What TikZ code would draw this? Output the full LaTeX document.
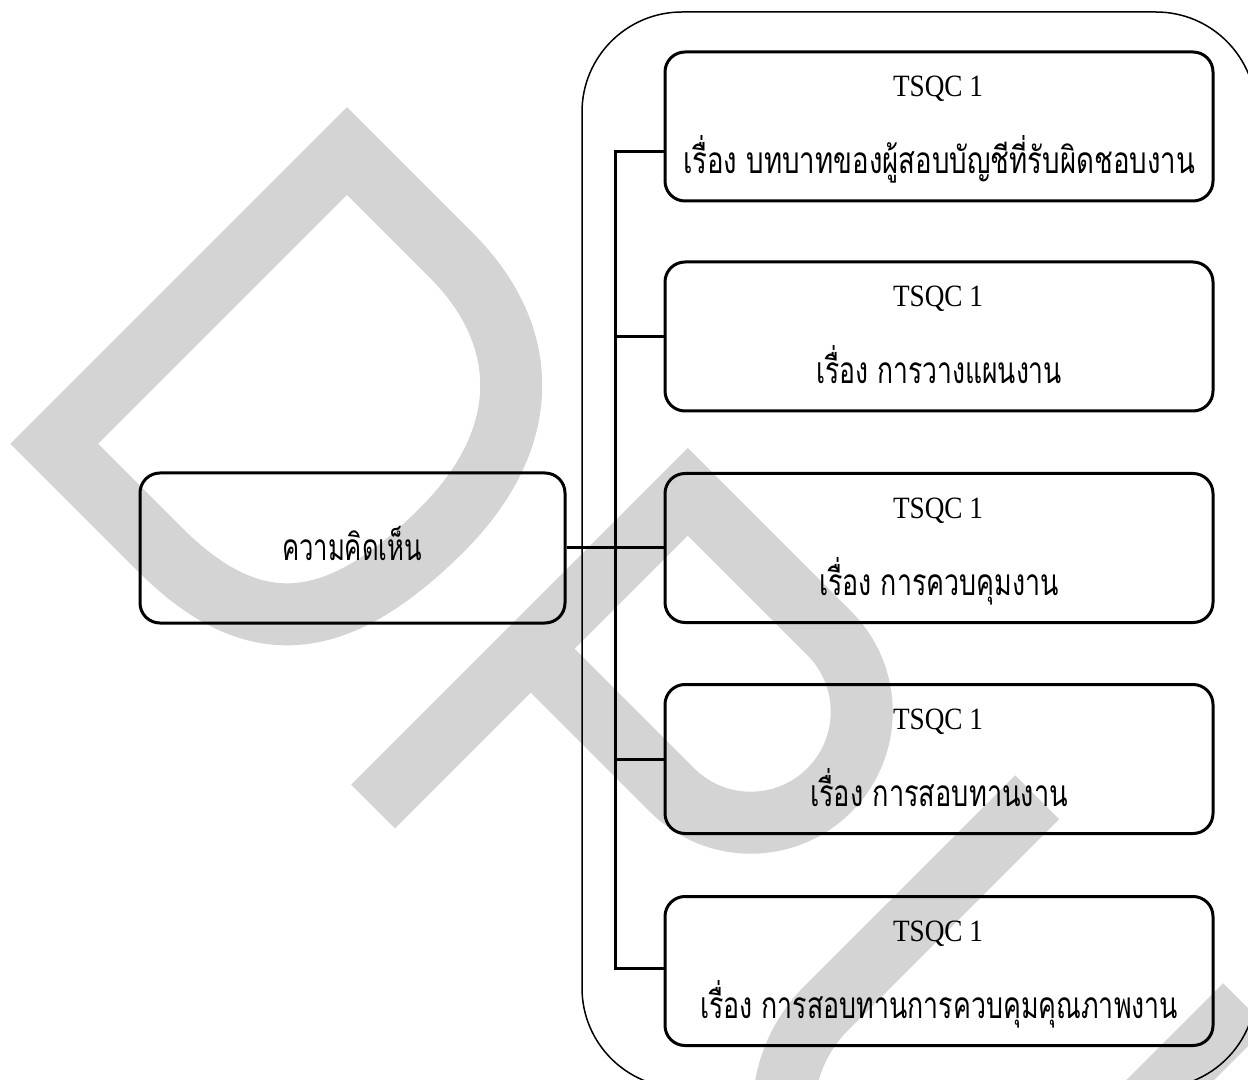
\documentclass[tikz,border=0pt]{standalone}
\usepackage{fontspec}
\usepackage{graphicx}
\setmainfont{Liberation Serif}
\newfontfamily\thaifont[Script=Thai]{Loma}
\definecolor{wmgray}{RGB}{212,212,212}
\newcommand{\thaiw}[2]{\resizebox{#1}{\height}{\fontsize{18.5}{22}\selectfont\thaifont #2}}
\newcommand{\codew}[1]{\resizebox{45pt}{\height}{\fontsize{15.5}{18}\selectfont #1}}
\tikzset{
	topicbox/.style={draw, line width=1.5pt, rounded corners=10pt, minimum width=274pt, minimum height=74.5pt, inner sep=0pt},
	opinionbox/.style={topicbox, minimum width=212.5pt, minimum height=75pt},
	link/.style={line width=1.5pt, line join=miter},
	wmstroke/.style={draw=wmgray, line width=31pt, line join=miter, miter limit=10}
}
\begin{document}
\begin{tikzpicture}[x=0.5pt,y=-0.5pt]
	\useasboundingbox (0,0) rectangle (1248,1080);
	\clip (0,0) rectangle (1248,1080);
	%Watermark letters in the background
	\begin{scope}[shift={(347,151)}, x={(0.35355pt,-0.35355pt)}, y={(0.35355pt,0.35355pt)}]
		%D
		\draw[wmstroke] (0,0) -- (147,0) .. controls (265,0) and (335,-75) .. (335,-200) .. controls (335,-345) and (285,-414) .. (150,-414) -- (0,-414) -- cycle;
		%P
		\draw[wmstroke] (482,-445) -- (482,0) -- (682,0) arc[start angle=90, end angle=-90, radius=111] -- (482,-222);
		%U
		\draw[wmstroke] (945,31) -- (945,-267) arc[start angle=180, end angle=360, radius=147] -- (1239,31);
	\end{scope}
	%Outer frame round the topics
	\node[draw, line width=0.75pt, rounded corners=50pt, minimum width=337pt, minimum height=538pt, inner sep=0pt] (group) at (919,550) {};
	%Topic boxes
	\foreach \n/\y/\w/\txt in {1/126.5/256pt/{บทบาทของผู้สอบบัญชีที่รับผิดชอบงาน},
		2/336.5/123pt/{การวางแผนงาน},
		3/548/120pt/{การควบคุมงาน},
		4/759/129pt/{การสอบทานงาน},
		5/971/239pt/{การสอบทานการควบคุมคุณภาพงาน}} {
		\node[topicbox] (t\n) at (939,\y) {};
		\node[anchor=base] (code\n) at (938,\y-30) {\codew{TSQC 1}};
		\node[anchor=base] (title\n) at (939,\y+47.5) {\thaiw{\w}{เรื่อง \txt}};
	}
	%Opinion box
	\node[opinionbox] (opinion) at (352.5,548) {};
	\node[anchor=base] (opiniontext) at (352,560) {\thaiw{70pt}{ความคิดเห็น}};
	%Junctions on the trunk
	\coordinate (j1) at (615,152);
	\coordinate (j2) at (615,337);
	\coordinate (j3) at (615,548);
	\coordinate (j4) at (615,759);
	\coordinate (j5) at (615,968);
	%Trunk with the top and bottom branches
	\draw[link] (t1.west |- j1) -- (j1) -- (j5) -- (t5.west |- j5);
	\draw[link] (j2) -- (j2 -| t2.west);
	\draw[link] (j4) -- (j4 -| t4.west);
	\draw[link] (opinion.east) -- (t3.west);
\end{tikzpicture}
\end{document}
